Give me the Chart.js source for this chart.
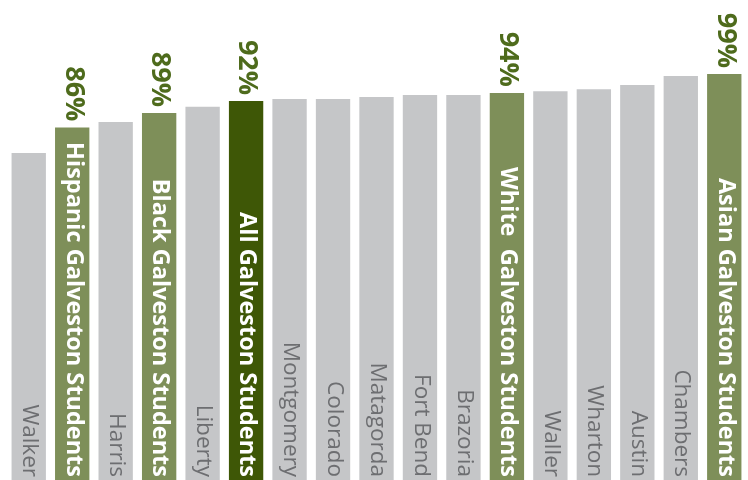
<!DOCTYPE html>
<html>
<head>
<meta charset="utf-8">
<script src="https://cdn.jsdelivr.net/npm/chart.js@4.4.1/dist/chart.umd.min.js"></script>
<style>
  html, body { margin: 0; padding: 0; background: #fff; }
  #wrap { width: 748px; height: 480px; position: relative; }
</style>
</head>
<body>
<div id="wrap"><canvas id="gradChart"></canvas></div>
<script>
// categorias y valores (%)
const categorias = ['Walker', 'Hispanic Galveston Students', 'Harris', 'Black Galveston Students', 'Liberty',
  'All Galveston Students', 'Montgomery', 'Colorado', 'Matagorda', 'Fort Bend', 'Brazoria',
  'White  Galveston Students', 'Waller', 'Wharton', 'Austin', 'Chambers', 'Asian Galveston Students'];
const valores = [79.6, 85.8, 87.1, 89.3, 90.8, 92.2, 92.7, 92.7, 93.2, 93.7, 93.7, 94.2, 94.6, 95.1, 96.1, 98.3, 98.8];
// tipo: 0 = condado (gris), 1 = grupo Galveston, 2 = todos
const tipo = [0, 1, 0, 1, 0, 2, 0, 0, 0, 0, 0, 1, 0, 0, 0, 0, 1];

const colorBarra = ['#c5c6c8', '#7e8f59', '#3e5706'];
const colorTexto = ['#6d6e71', '#ffffff', '#ffffff'];

const etiquetas = {
  id: 'etiquetas',
  afterDatasetsDraw(chart) {
    const ctx = chart.ctx;
    const barras = chart.getDatasetMeta(0).data;
    barras.forEach(function (bar, i) {
      // nombre dentro de la barra, girado
      ctx.save();
      ctx.translate(bar.x + 1, 477);
      ctx.rotate(Math.PI / 2);
      ctx.textAlign = 'right';
      ctx.textBaseline = 'middle';
      ctx.fillStyle = colorTexto[tipo[i]];
      ctx.font = tipo[i] ? 'bold 23.5px "Open Sans"' : '22.5px "Open Sans"';
      ctx.fillText(categorias[i], 0, 0);
      ctx.restore();

      // porcentaje arriba de las barras verdes
      if (tipo[i]) {
        ctx.save();
        ctx.translate(bar.x + 1, bar.y - 6);
        ctx.rotate(Math.PI / 2);
        ctx.textAlign = 'right';
        ctx.textBaseline = 'middle';
        ctx.fillStyle = '#4e6b1c';
        ctx.font = 'bold 27px "Open Sans"';
        ctx.fillText(Math.round(valores[i]) + '%', 0, 0);
        ctx.restore();
      }
    });
  }
};

const ctx = document.getElementById('gradChart');

new Chart(ctx, {
  type: 'bar',
  data: {
    labels: categorias,
    datasets: [{
      data: valores,
      backgroundColor: tipo.map(t => colorBarra[t]),
      borderWidth: 0,
      barPercentage: 0.79,
      categoryPercentage: 1
    }]
  },
  options: {
    responsive: true,
    maintainAspectRatio: false,
    animation: false,
    layout: { padding: { left: 7, right: 2, top: 0, bottom: 0 } },
    plugins: {
      legend: { display: false },
      tooltip: { enabled: false }
    },
    scales: {
      x: { display: false },
      y: { display: false, min: 0, max: 116.8 }
    }
  },
  plugins: [etiquetas]
});
</script>
</body>
</html>
